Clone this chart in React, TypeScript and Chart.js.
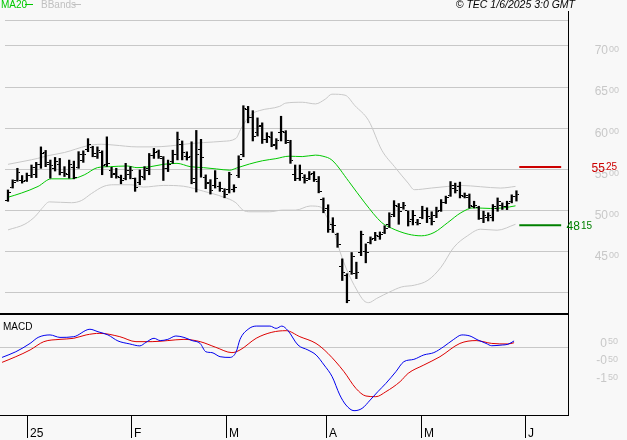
import React, { useEffect, useRef } from "react";
import { Chart, registerables } from "chart.js";
Chart.register(...registerables);

// ---------- data ----------
const highs = [52.45,53.68,55.08,54.2,54.5,55.48,55.8,57.68,57.25,56.08,
56.4,56.28,55.28,56.08,55.95,57.1,57.2,58.68,57.75,57.68,
57.2,58.9,55.2,55.08,54.25,55.68,55.28,53.9,54.88,55.28,
56.88,57.5,57.3,56.5,56.08,57.28,59.48,58.4,57.08,58.3,
59.68,58.6,54.28,53.7,54.8,53.4,52.6,54.6,53.08,56.6,
62.68,62.6,62.08,61.2,60.6,59.4,59.5,58.68,61.4,59.65,
58.48,55.48,55.48,54.3,54.68,54.68,54.08,51.48,50.65,49.08,
47.2,44.08,42.28,44.85,43.68,47.45,45.9,46.75,47.3,47.35,
48.1,49.68,51.15,50.8,50.95,49.9,49.96,48.88,50.47,50.28,
49.8,50.36,51.28,51.7,53.47,53.28,53.4,52.08,51.96,51.08,
50.47,49.88,49.68,50.68,51.48,50.88,51.08,51.86,52.35];

const lows = [51.07,52.68,53.5,53.28,53.48,53.95,53.95,55.08,55.28,53.88,
54.75,54.28,54.08,53.88,53.8,55.08,55.8,57.1,56.48,56.28,
54.3,55.3,53.95,53.88,53.2,53.68,53.8,52.28,53.08,53.68,
54.3,56.28,56.28,53.6,54.68,55.68,56.1,56.1,56.08,53.2,
52.2,54.0,52.6,51.95,52.68,52.28,51.5,52.08,52.2,53.95,
56.48,60.6,58.4,59.0,58.1,58.2,57.7,57.4,58.4,58.08,
55.68,53.58,53.6,53.28,53.7,53.48,52.1,49.68,47.3,47.28,
45.48,41.45,38.75,42.2,41.68,44.47,43.6,45.9,46.3,46.45,
47.15,47.9,49.2,48.28,50.1,48.07,48.2,48.2,48.95,48.48,
48.2,49.08,49.85,50.8,51.67,52.08,51.48,51.48,50.25,50.26,
48.87,48.48,48.68,48.68,49.86,50.08,50.06,50.88,51.1];

const opens = [51.2,52.8,53.6,53.6,53.6,54.2,54.3,55.5,57.0,55.6,
55.0,55.5,54.6,54.3,55.2,55.2,56.0,57.4,57.6,56.5,
57.0,55.6,54.8,54.4,54.0,53.9,54.3,53.8,53.3,54.0,
55.0,56.6,57.1,56.3,55.0,55.9,56.8,58.0,56.5,56.5,
53.4,57.4,54.0,53.3,53.0,52.9,52.3,52.5,52.5,54.2,
56.8,62.2,61.3,59.4,60.3,58.6,58.8,58.0,59.4,59.4,
58.2,54.3,53.9,54.0,53.8,54.5,53.5,51.3,50.2,48.3,
47.0,43.2,42.0,42.6,42.3,44.8,45.0,46.1,46.6,46.8,
47.3,48.2,49.5,50.4,50.3,50.0,48.9,48.5,49.1,49.9,
49.0,49.3,50.0,50.9,51.8,52.6,52.9,51.7,51.5,50.5,
50.3,49.0,49.1,49.1,50.2,50.6,50.4,51.0,51.6];

const closes = [52.2,53.4,54.6,53.5,54.2,55.2,55.6,56.9,55.8,55.4,
55.9,54.6,54.4,55.5,54.0,56.8,56.8,58.0,56.9,57.2,
55.4,55.7,54.3,54.1,53.6,54.8,54.8,52.8,54.1,54.8,
56.6,57.0,56.5,55.0,55.6,56.7,58.6,57.0,56.4,53.8,
56.8,56.4,53.2,52.4,53.8,52.6,51.9,54.3,52.7,56.2,
62.4,61.3,59.0,60.2,58.6,59.0,57.9,58.5,59.6,58.5,
56.0,53.8,54.4,53.6,54.3,53.7,52.3,50.0,47.6,48.1,
45.8,42.4,39.0,44.4,42.4,47.1,44.8,46.4,46.9,47.1,
47.8,49.2,50.6,49.8,50.6,48.6,49.4,48.4,50.0,49.2,
48.6,49.8,50.9,51.5,53.0,52.4,51.8,51.8,50.6,50.6,
49.0,49.4,49.3,50.4,51.0,50.4,50.8,51.6,51.9];

// [bar index, value]
const ma20: [number, number][] = [[0,51.56],[2.9,52.08],[6.4,52.88],[9.2,53.8],[13.4,53.8],[16.2,54.28],[19,55.16],[21.8,55.28],[25.3,55.36],[27.4,55.16],[30.3,55.28],[33,55.56],[35.9,55.68],[38.7,55.28],[41.5,55.16],[44.3,55.0],[47.1,54.85],[48.5,55.1],[51.3,55.6],[54.1,56.0],[56.9,56.25],[59.7,56.55],[62.5,56.5],[65.3,56.68],[66.9,56.55],[68.8,56.08],[72.4,53.48],[75.8,50.88],[79.4,48.48],[81.5,47.8],[85,47.08],[87.8,46.88],[90.5,47.28],[93.4,48.48],[96.2,49.68],[98.9,50.28],[102.5,50.2],[105.3,50.28],[107.8,50.52]];

const bbUpper: [number, number][] = [[0,55.56],[3.6,55.96],[6.3,56.28],[8.4,56.6],[12,57.0],[16.8,57.8],[19.8,58.0],[22.5,57.9],[27.4,57.68],[30.9,57.68],[34.5,57.8],[38.7,58.08],[41.5,58.2],[45.7,58.36],[48.4,58.7],[49.5,59.9],[51.6,61.6],[53.5,62.1],[57.7,62.6],[59,63.0],[62.5,63.1],[65.3,62.9],[67.4,63.48],[68.8,64.08],[71.6,63.96],[73.7,62.68],[76.6,60.88],[79.4,57.28],[82.1,55.28],[85,53.28],[86.3,52.48],[89.9,52.68],[93.4,52.88],[96.2,53.0],[100.4,52.84],[104.6,52.68],[107.8,52.88]];

const bbLower: [number, number][] = [[0,47.6],[3.6,48.3],[5.9,49.3],[7.2,50.2],[8.8,51.0],[13.5,50.9],[15.6,51.16],[17.7,52.0],[20.4,52.9],[22.5,53.08],[26.1,53.08],[28.8,52.8],[33.1,53.0],[37.3,52.9],[41.5,52.3],[45.7,51.6],[48.4,50.9],[49.9,50.0],[51.4,49.8],[55.6,49.8],[58.3,50.0],[61.1,50.0],[64.2,50.5],[66.3,50.4],[67.8,49.1],[69.2,47.5],[70.5,45.0],[72,42.7],[74.1,40.3],[75.6,39.0],[76.6,38.76],[78.3,39.27],[81.1,40.07],[83.6,40.67],[86.3,40.88],[89.2,41.48],[92,43.08],[94.7,45.48],[97.6,46.88],[100.4,47.68],[103.9,47.56],[107.8,48.28]];

const macdLine: [number, number][] = [[-0.2,-0.61],[2.7,-0.29],[5.7,0.18],[7.4,0.52],[9.9,0.66],[12,0.52],[14.9,0.56],[18.3,0.98],[20,0.84],[22.1,0.66],[24.2,0.32],[26.7,0.15],[28.8,0.04],[30.1,0.24],[31.8,0.47],[33.1,0.34],[34.7,0.41],[36.4,0.6],[38.1,0.52],[39.8,0.34],[41.5,0.18],[42.7,-0.29],[44,-0.34],[45.7,-0.57],[47.8,-0.61],[49.1,-0.29],[49.9,0.41],[51.6,0.98],[53.3,1.16],[56.2,1.16],[57.5,1.03],[58.7,1.16],[60,0.9],[62.1,0.09],[64.2,-0.19],[65.9,-0.47],[67.6,-1.04],[69.3,-1.7],[70.9,-2.73],[72.2,-3.3],[73.9,-3.62],[75.6,-3.49],[77.3,-3.02],[78.9,-2.55],[80.6,-2.08],[82.7,-1.42],[84.4,-0.85],[86.5,-0.72],[88.6,-0.47],[90.7,-0.34],[92.8,0.0],[94.9,0.41],[96.6,0.66],[98.3,0.6],[100,0.37],[101.7,0.18],[102.9,0.05],[105.1,0.09],[106.3,0.13],[107.6,0.32]];

const signalLine: [number, number][] = [[-0.2,-0.89],[2.7,-0.57],[5.7,-0.19],[8.6,0.28],[12,0.41],[14.9,0.47],[17.5,0.66],[20.4,0.75],[24.6,0.56],[28,0.28],[31.4,0.28],[34.7,0.34],[38.1,0.41],[41.5,0.28],[44.8,-0.04],[48.2,-0.34],[49.9,-0.19],[53.3,0.47],[56.6,0.81],[59.6,0.9],[62.5,0.56],[65.9,0.18],[68.4,-0.38],[71.8,-1.42],[74.3,-2.36],[76.4,-2.79],[78.5,-2.83],[80.6,-2.55],[83.6,-1.98],[85.3,-1.51],[88.6,-1.04],[92,-0.57],[96.2,0.18],[99.6,0.34],[102.9,0.18],[106.3,0.15],[107.6,0.22]];

const resistance = 55.25;
const support = 48.15;
const levelSpan: [number, number] = [108.6, 117.5];

const monthTicks = [5, 27, 47, 68, 88, 110];
const monthLabels = ["25", "F", "M", "A", "M", "J"];
const priceGrid = [40, 45, 50, 55, 60, 65, 70];
const priceLabels = [45, 50, 55, 60, 65, 70];
const macdLabels = [0.5, -0.5, -1.5];

const X_MIN = -0.632, X_MAX = 118.95;
const P_MIN = 37.87, P_MAX = 73.09;
const M_MIN = -3.864, M_MAX = 1.729;

const FONT = '"Liberation Sans", Arial, Helvetica, sans-serif';
const GRID = "#c8c8c8";

function splitNum(v: number): [string, string] {
  const neg = v < 0;
  const a = Math.abs(v);
  let ip = Math.floor(a + 1e-9);
  let fp = Math.round((a - ip) * 100);
  if (fp === 100) { ip += 1; fp = 0; }
  return [(neg ? "-" : "") + ip, String(fp).padStart(2, "0")];
}

function drawSupLabel(ctx: CanvasRenderingContext2D, v: number, right: number, cy: number, color: string, mainPx: number, supPx: number) {
  const [m, s] = splitNum(v);
  ctx.save();
  ctx.fillStyle = color;
  ctx.textBaseline = "alphabetic";
  ctx.textAlign = "right";
  ctx.font = `${supPx}px ${FONT}`;
  const sw = ctx.measureText(s).width;
  const top = cy - mainPx * 0.36;
  ctx.fillText(s, right, top + supPx * 0.72);
  ctx.font = `${mainPx}px ${FONT}`;
  ctx.fillText(m, right - sw - 1, cy + mainPx * 0.36);
  ctx.restore();
}

function makeTick(side: "left" | "right") {
  const c = document.createElement("canvas");
  c.width = 6; c.height = 1;
  const g = c.getContext("2d")!;
  g.fillStyle = "#000";
  g.fillRect(side === "left" ? 0 : 4, 0, 2, 1);
  return c;
}

const pts = (arr: [number, number][]) => arr.map(([x, y]) => ({ x, y }));

export default function App() {
  const priceRef = useRef<HTMLCanvasElement>(null);
  const macdRef = useRef<HTMLCanvasElement>(null);

  useEffect(() => {
    document.body.style.margin = "0";
    document.body.style.background = "#f8f8f8";
    const openImg = makeTick("left");
    const closeImg = makeTick("right");

    const pricePlugin = {
      id: "pricePanel",
      beforeDatasetsDraw(chart: any) {
        const { ctx, chartArea, scales } = chart;
        const y = scales.y;
        ctx.save();
        ctx.fillStyle = GRID;
        ctx.fillRect(chartArea.left, 20, chartArea.right - chartArea.left, 1);
        for (const v of priceGrid) {
          const py = Math.round(y.getPixelForValue(v));
          ctx.fillRect(chartArea.left, py, chartArea.right - chartArea.left, 1);
        }
        ctx.restore();
      },
      afterDraw(chart: any) {
        const { ctx, scales } = chart;
        const y = scales.y;
        ctx.save();
        ctx.fillStyle = "#000";
        ctx.fillRect(568, 11, 1, 304);
        ctx.fillRect(0, 313, 569, 2);
        for (const v of priceLabels) {
          drawSupLabel(ctx, v, 619, y.getPixelForValue(v) + 4.5, GRID, 12, 9);
        }
        drawSupLabel(ctx, resistance, 617, y.getPixelForValue(resistance) + 0.5, "#cc0000", 12, 10);
        drawSupLabel(ctx, support, 592, y.getPixelForValue(support) + 0.5, "#008000", 12, 10);
        ctx.textBaseline = "middle";
        ctx.textAlign = "left";
        ctx.font = `10px ${FONT}`;
        ctx.fillStyle = "#00c800";
        ctx.fillText("MA20", 1, 5);
        ctx.fillRect(25, 4, 8, 1);
        ctx.fillStyle = "#c0c0c0";
        ctx.fillText("BBands", 41, 5);
        ctx.fillRect(73, 4, 8, 1);
        ctx.fillStyle = "#000";
        ctx.textAlign = "right";
        ctx.font = `italic 10.5px ${FONT}`;
        ctx.fillText("\u00a9 TEC 1/6/2025 3:0 GMT", 575, 5);
        ctx.restore();
      },
    };

    const macdPlugin = {
      id: "macdPanel",
      beforeDatasetsDraw(chart: any) {
        const { ctx, chartArea, scales } = chart;
        ctx.save();
        ctx.fillStyle = GRID;
        const py = Math.round(scales.y.getPixelForValue(0));
        ctx.fillRect(chartArea.left, py, chartArea.right - chartArea.left, 1);
        ctx.restore();
      },
      afterDraw(chart: any) {
        const { ctx, scales } = chart;
        const x = scales.x;
        const y = scales.y;
        ctx.save();
        ctx.fillStyle = "#000";
        ctx.fillRect(568, 0, 1, 101);
        ctx.fillRect(0, 100, 569, 1);
        ctx.font = `10px ${FONT}`;
        ctx.textBaseline = "middle";
        ctx.textAlign = "left";
        ctx.fillText("MACD", 3, 12.5);
        for (const v of macdLabels) {
          drawSupLabel(ctx, v, 618, y.getPixelForValue(v) + 4.5, GRID, 12, 9);
        }
        ctx.font = `12px ${FONT}`;
        ctx.textBaseline = "alphabetic";
        monthTicks.forEach((t, i) => {
          const px = Math.round(x.getPixelForValue(t));
          ctx.fillRect(px, 100, 1, 23);
          ctx.fillText(monthLabels[i], px + 3, 122);
        });
        ctx.restore();
      },
    };

    const lineDs = (data: any[], color: string, order: number, width = 1) => ({
      type: "line" as const,
      data,
      borderColor: color,
      borderWidth: width,
      pointRadius: 0,
      cubicInterpolationMode: "monotone" as const,
      fill: false,
      order,
    });

    const c1 = new Chart(priceRef.current!, {
      type: "line",
      data: {
        datasets: [
          lineDs(pts(bbUpper), GRID, 6) as any,
          lineDs(pts(bbLower), GRID, 6) as any,
          lineDs(pts(ma20), "#00c800", 5) as any,
          {
            type: "bar",
            data: highs.map((h, i) => ({ x: i, y: [lows[i], h] })),
            backgroundColor: "#000",
            borderWidth: 0,
            barThickness: 1.6,
            grouped: false,
            order: 2,
          } as any,
          {
            type: "line",
            data: opens.map((o, i) => ({ x: i, y: o })),
            showLine: false,
            pointStyle: openImg,
            pointRadius: 3,
            order: 1,
          } as any,
          {
            type: "line",
            data: closes.map((c, i) => ({ x: i, y: c })),
            showLine: false,
            pointStyle: closeImg,
            pointRadius: 3,
            order: 1,
          } as any,
          lineDs(levelSpan.map((x) => ({ x, y: resistance })), "#cc0000", 3, 2) as any,
          lineDs(levelSpan.map((x) => ({ x, y: support })), "#008000", 3, 2) as any,
        ],
      },
      options: {
        animation: false,
        responsive: false,
        events: [],
        layout: { padding: { left: 0, right: 59, top: 20, bottom: 2 } },
        plugins: { legend: { display: false }, tooltip: { enabled: false } },
        scales: {
          x: { type: "linear", min: X_MIN, max: X_MAX, display: false, offset: false },
          y: { type: "linear", min: P_MIN, max: P_MAX, display: false },
        },
      },
      plugins: [pricePlugin],
    });

    const c2 = new Chart(macdRef.current!, {
      type: "line",
      data: {
        datasets: [
          lineDs(pts(signalLine), "#dd0000", 2) as any,
          lineDs(pts(macdLine), "#0000ee", 1) as any,
        ],
      },
      options: {
        animation: false,
        responsive: false,
        events: [],
        layout: { padding: { left: 0, right: 59, top: 1, bottom: 25 } },
        plugins: { legend: { display: false }, tooltip: { enabled: false } },
        scales: {
          x: { type: "linear", min: X_MIN, max: X_MAX, display: false, offset: false },
          y: { type: "linear", min: M_MIN, max: M_MAX, display: false },
        },
      },
      plugins: [macdPlugin],
    });

    return () => {
      c1.destroy();
      c2.destroy();
    };
  }, []);

  return (
    <div style={{ position: "relative", width: 627, height: 440, background: "#f8f8f8", overflow: "hidden" }}>
      <canvas ref={priceRef} width={627} height={315} style={{ position: "absolute", left: 0, top: 0, width: 627, height: 315 }} />
      <canvas ref={macdRef} width={627} height={125} style={{ position: "absolute", left: 0, top: 315, width: 627, height: 125 }} />
    </div>
  );
}
